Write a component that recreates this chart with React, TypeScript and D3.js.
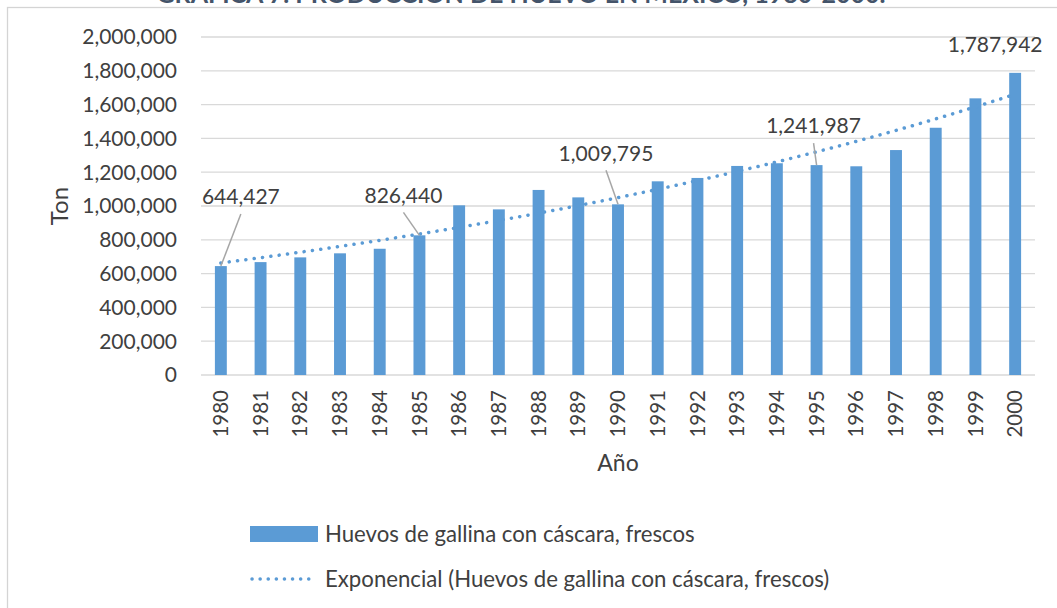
import React from "react";
import * as d3 from "d3";

const years = ["1980","1981","1982","1983","1984","1985","1986","1987","1988","1989","1990","1991","1992","1993","1994","1995","1996","1997","1998","1999","2000"];
const production = [644427, 668000, 696000, 720000, 747000, 826440, 1004000, 980000, 1095000, 1051000, 1009795, 1146000, 1166000, 1237000, 1253000, 1241987, 1235000, 1331000, 1463000, 1637000, 1787942];
const yTicks = [0, 200000, 400000, 600000, 800000, 1000000, 1200000, 1400000, 1600000, 1800000, 2000000];
// labelled points: index, label offset (dx, dy) from bar top, leader line
const labelled = [
  { i: 0, dx: 20, dy: -69, leader: true },
  { i: 5, dx: -16, dy: -40, leader: true },
  { i: 10, dx: -12, dy: -51, leader: true },
  { i: 15, dx: -3, dy: -39, leader: true },
  { i: 20, dx: -20, dy: -28, leader: false },
];

const W = 1057, H = 608;
const M = { left: 201, right: 1035, top: 37, bottom: 375 };
const FONT = "Lato, 'Open Sans', sans-serif";
const TXT = "#404040";
const BAR = "#5B9BD5";

export default function App() {
  const x = d3.scaleBand<string>().domain(years).range([M.left, M.right]).paddingInner(0.7).paddingOuter(0.35);
  const y = d3.scaleLinear().domain([0, 2000000]).range([M.bottom, M.top]);
  const fmt = d3.format(",");
  const cx = (i: number) => (x(years[i]) as number) + x.bandwidth() / 2;

  // Excel-style exponential trend: least squares on ln(y)
  const n = production.length;
  const xs = production.map((_, i) => i + 1);
  const ls = production.map((v) => Math.log(v));
  const mx = d3.mean(xs) as number, ml = d3.mean(ls) as number;
  const b = d3.sum(xs.map((xi, i) => (xi - mx) * (ls[i] - ml))) / d3.sum(xs.map((xi) => (xi - mx) ** 2));
  const a = Math.exp(ml - b * mx);
  const trendPts: [number, number][] = d3.range(0, n - 1 + 0.001, 0.25).map((t) => [
    (x(years[0]) as number) + x.bandwidth() / 2 + t * x.step(),
    y(a * Math.exp(b * (t + 1))),
  ]);
  const line = d3.line();

  return (
    <svg width={W} height={H} style={{ position: "absolute", left: 0, top: 0, background: "#fff" }} fontFamily={FONT}>
      <rect x={0} y={0} width={W} height={H} fill="#fff" />
      <text x={521} y={3} textAnchor="middle" fontSize={25} fontWeight="bold" fill="#44546A">
        GRÁFICA 7. PRODUCCIÓN DE HUEVO EN MÉXICO, 1980-2000.
      </text>
      <rect x={7.5} y={7.5} width={W + 20} height={H + 20} fill="none" stroke="#d4d4d4" strokeWidth={1.3} />
      {yTicks.map((t) => (
        <g key={t}>
          <line x1={M.left} x2={M.right} y1={y(t)} y2={y(t)} stroke="#d9d9d9" strokeWidth={1.3} />
          <text x={177} y={y(t)} dy="0.35em" textAnchor="end" fontSize={21} fill={TXT}>{fmt(t)}</text>
        </g>
      ))}
      {production.map((v, i) => (
        <rect key={years[i]} x={x(years[i])} y={y(v)} width={x.bandwidth()} height={y(0) - y(v)} fill={BAR} />
      ))}
      <path d={line(trendPts) || ""} fill="none" stroke={BAR} strokeWidth={3.5} strokeLinecap="round" strokeDasharray="0.1 8.3" />
      {years.map((yr, i) => (
        <text key={yr} transform={`translate(${cx(i)},${390}) rotate(-90)`} dy="0.35em" textAnchor="end" fontSize={20.5} fill={TXT}>{yr}</text>
      ))}
      {labelled.map((l) => {
        const bx = cx(l.i), by = y(production[l.i]);
        const tx = bx + l.dx, ty = by + l.dy;
        return (
          <g key={l.i}>
            {l.leader && <line x1={tx} y1={ty + 17} x2={bx} y2={by} stroke="#a6a6a6" strokeWidth={1.5} />}
            <text x={tx} y={ty} dy="0.35em" textAnchor="middle" fontSize={21} fill={TXT}>{fmt(production[l.i])}</text>
          </g>
        );
      })}
      <text transform={`translate(60,206) rotate(-90)`} dy="0.35em" textAnchor="middle" fontSize={24} fill={TXT}>Ton</text>
      <text x={(M.left + M.right) / 2} y={463} dy="0.35em" textAnchor="middle" fontSize={23} fill={TXT}>Año</text>
      <rect x={250} y={526} width={68} height={16} fill={BAR} />
      <text x={325} y={534} dy="0.35em" fontSize={22.2} fill={TXT}>Huevos de gallina con cáscara, frescos</text>
      <line x1={252} x2={316} y1={579} y2={579} stroke={BAR} strokeWidth={3.5} strokeLinecap="round" strokeDasharray="0.1 8" />
      <text x={325} y={579} dy="0.35em" fontSize={22.2} fill={TXT}>Exponencial (Huevos de gallina con cáscara, frescos)</text>
    </svg>
  );
}
